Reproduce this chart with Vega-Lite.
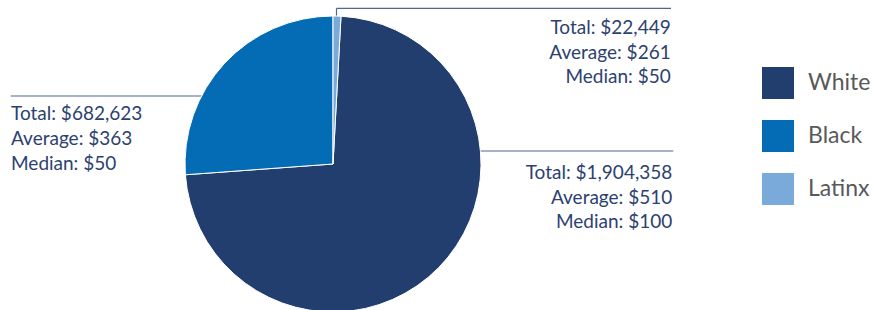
{
  "$schema": "https://vega.github.io/schema/vega-lite/v6.json",
  "width": 666,
  "height": 328,
  "padding": {"left": 0, "top": 0, "right": 206, "bottom": 0},
  "autosize": {"type": "none"},
  "background": "white",
  "config": {"view": {"stroke": null}, "font": "Lato", "text": {"lineBreak": "\n"}},
  "data": {
    "values": [
      {"group": "White", "total": 1904358, "average": 510, "median": 100, "label": "Total: $1,904,358\nAverage: $510\nMedian: $100"},
      {"group": "Black", "total": 682623, "average": 363, "median": 50, "label": "Total: $682,623\nAverage: $363\nMedian: $50"},
      {"group": "Latinx", "total": 22449, "average": 261, "median": 50, "label": "Total: $22,449\nAverage: $261\nMedian: $50"}
    ]
  },
  "layer": [
    {
      "transform": [{"filter": "datum.group === 'Black'"}],
      "mark": {"type": "rule", "color": "#4f6690", "strokeWidth": 1.2},
      "encoding": {
        "x": {"datum": 10.7, "type": "quantitative", "scale": {"domain": [0, 666], "nice": false, "zero": false}, "axis": null},
        "x2": {"datum": 202},
        "y": {"datum": 96, "type": "quantitative", "scale": {"domain": [0, 328], "reverse": true, "nice": false, "zero": false}, "axis": null}
      }
    },
    {
      "transform": [{"filter": "datum.group === 'White'"}],
      "mark": {"type": "rule", "color": "#4f6690", "strokeWidth": 1.2},
      "encoding": {
        "x": {"datum": 480, "type": "quantitative"},
        "x2": {"datum": 673.3},
        "y": {"datum": 151, "type": "quantitative"}
      }
    },
    {
      "transform": [{"filter": "datum.group === 'Latinx'"}],
      "mark": {"type": "rule", "color": "#4f6690", "strokeWidth": 1.2},
      "encoding": {
        "x": {"datum": 336.5, "type": "quantitative"},
        "x2": {"datum": 671},
        "y": {"datum": 8.3, "type": "quantitative"}
      }
    },
    {
      "transform": [{"filter": "datum.group === 'Latinx'"}],
      "mark": {"type": "rule", "color": "#4f6690", "strokeWidth": 1.2},
      "encoding": {
        "x": {"datum": 336.5, "type": "quantitative"},
        "y": {"datum": 8.3, "type": "quantitative"},
        "y2": {"datum": 17}
      }
    },
    {
      "mark": {"type": "arc", "radius": 148, "stroke": "white", "strokeWidth": 1},
      "encoding": {
        "theta": {"field": "total", "type": "quantitative", "stack": true, "scale": {"range": [-1.64367, 4.63952]}},
        "order": {"field": "group", "type": "nominal", "sort": "ascending"},
        "color": {
          "field": "group",
          "type": "nominal",
          "scale": {"domain": ["White", "Black", "Latinx"], "range": ["#213e6e", "#046cb4", "#79aad9"]},
          "legend": {
            "title": null,
            "orient": "none",
            "legendX": 762,
            "legendY": 67,
            "symbolType": "square",
            "symbolSize": 1024,
            "symbolStrokeWidth": 0,
            "labelFont": "Lato",
            "labelFontSize": 23,
            "labelColor": "#58595b",
            "labelOffset": 14,
            "rowPadding": 21,
            "padding": 0
          }
        }
      }
    },
    {
      "transform": [{"filter": "datum.group === 'Latinx'"}],
      "mark": {"type": "text", "align": "right", "baseline": "alphabetic", "fontSize": 19, "lineHeight": 24.5, "color": "#2c4170"},
      "encoding": {
        "x": {"datum": 670.7, "type": "quantitative"},
        "y": {"datum": 34.3, "type": "quantitative"},
        "text": {"field": "label"}
      }
    },
    {
      "transform": [{"filter": "datum.group === 'White'"}],
      "mark": {"type": "text", "align": "right", "baseline": "alphabetic", "fontSize": 19, "lineHeight": 24.7, "color": "#2c4170"},
      "encoding": {
        "x": {"datum": 672.3, "type": "quantitative"},
        "y": {"datum": 179, "type": "quantitative"},
        "text": {"field": "label"}
      }
    },
    {
      "transform": [{"filter": "datum.group === 'Black'"}],
      "mark": {"type": "text", "align": "left", "baseline": "alphabetic", "fontSize": 19, "lineHeight": 25.2, "color": "#2c4170"},
      "encoding": {
        "x": {"datum": 11, "type": "quantitative"},
        "y": {"datum": 120, "type": "quantitative"},
        "text": {"field": "label"}
      }
    }
  ]
}
